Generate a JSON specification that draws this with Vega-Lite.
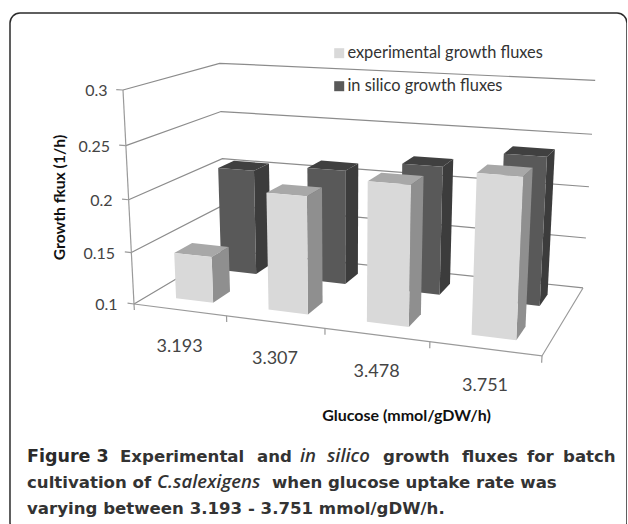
{
  "$schema": "https://vega.github.io/schema/vega-lite/v6.json",
  "width": 617,
  "height": 520,
  "autosize": "none",
  "padding": {"left": 10, "top": 13, "right": 0, "bottom": 0},
  "background": "white",
  "view": {"stroke": "#2b2b2b", "strokeWidth": 1.5, "cornerRadius": 10, "fill": "white"},
  "datasets": {
    "bars": [
      {"category": "3.193", "series": "in silico growth fluxes", "value": 0.206},
      {"category": "3.307", "series": "in silico growth fluxes", "value": 0.213},
      {"category": "3.478", "series": "in silico growth fluxes", "value": 0.224},
      {"category": "3.751", "series": "in silico growth fluxes", "value": 0.24},
      {"category": "3.193", "series": "experimental growth fluxes", "value": 0.1445},
      {"category": "3.307", "series": "experimental growth fluxes", "value": 0.21},
      {"category": "3.478", "series": "experimental growth fluxes", "value": 0.228},
      {"category": "3.751", "series": "experimental growth fluxes", "value": 0.2424}
    ],
    "levels": [{"level": 0.1}, {"level": 0.15}, {"level": 0.2}, {"level": 0.25}, {"level": 0.3}],
    "edges": [{"edge": 0}, {"edge": 1}, {"edge": 2}, {"edge": 3}, {"edge": 4}],
    "categories": [{"category": "3.193"}, {"category": "3.307"}, {"category": "3.478"}, {"category": "3.751"}],
    "caption": [
      {"run": "Figure 3", "line": 0, "kind": "head"},
      {"run": "Experimental", "line": 0, "kind": "body"},
      {"run": "and", "line": 0, "kind": "body"},
      {"run": "in", "line": 0, "kind": "term"},
      {"run": "silico", "line": 0, "kind": "term"},
      {"run": "growth", "line": 0, "kind": "body"},
      {"run": "fluxes", "line": 0, "kind": "body"},
      {"run": "for", "line": 0, "kind": "body"},
      {"run": "batch", "line": 0, "kind": "body"},
      {"run": "cultivation of", "line": 1, "kind": "body"},
      {"run": "C.salexigens", "line": 1, "kind": "term"},
      {"run": "when glucose uptake rate was", "line": 1, "kind": "body"},
      {"run": "varying between 3.193 - 3.751 mmol/gDW/h.", "line": 2, "kind": "body"}
    ]
  },
  "encoding": {
    "x": {
      "field": "sx", "type": "quantitative",
      "scale": {"domain": [10, 627], "nice": false, "zero": false},
      "axis": {
        "labels": false, "ticks": false, "domain": false, "grid": false,
        "title": "Glucose (mmol/gDW/h)", "titleFont": "Lato", "titleFontSize": 16, "titleFontWeight": "bold", "titleColor": "#111",
        "titleX": 396, "titleY": -113, "titleBaseline": "alphabetic"
      }
    },
    "y": {
      "field": "sy", "type": "quantitative",
      "scale": {"domain": [-0.11402, 0.37196], "nice": false, "zero": false},
      "axis": {
        "values": [0.1, 0.15, 0.2, 0.25, 0.3], "offset": -110, "format": ".2~f",
        "ticks": false, "domain": false, "grid": false,
        "labelFont": "Lato", "labelFontSize": 16, "labelColor": "#444",
        "labelPadding": {"expr": "3+(datum.value-0.1)*50"},
        "labelOffset": {"condition": {"test": "datum.value==0.1||datum.value==0.3", "value": 1}, "value": 3.5},
        "title": "Growth fkux (1/h)", "titleFont": "Lato", "titleFontSize": 15.7, "titleFontWeight": "bold", "titleColor": "#111",
        "titleX": -61, "titleY": 184, "titleBaseline": "middle"
      }
    }
  },
  "layer": [
    {
      "data": {"name": "levels"},
      "transform": [
        {"calculate": "(datum.level-0.1)/0.2", "as": "z"},
        {"calculate": "[[0,0,0],[0,1,1],[1,1,2]]", "as": "pt"},
        {"flatten": ["pt"]},
        {"calculate": "datum.pt[0]", "as": "u"},
        {"calculate": "datum.pt[1]", "as": "v"},
        {"calculate": "datum.pt[2]", "as": "n"},
        {"calculate": "1-0.1201*datum.u+0.1534*datum.v-0.05*datum.z", "as": "w"},
        {"calculate": "(342.9*datum.u+125.5*datum.v+134-17.15*datum.z)/datum.w", "as": "sx"},
        {"calculate": "0.1+(304-(9.2*datum.u-15.65*datum.v+304-218.5*datum.z)/datum.w)/1070", "as": "sy"}
      ],
      "mark": {"type": "line", "stroke": "#8c8c8c", "strokeWidth": 1.2},
      "encoding": {"detail": {"field": "level"}, "order": {"field": "n", "type": "quantitative"}}
    },
    {
      "data": {"name": "levels"},
      "transform": [
        {"calculate": "(datum.level-0.1)/0.2", "as": "z"},
        {"calculate": "[[-0.018,0],[0,1]]", "as": "pt"},
        {"flatten": ["pt"]},
        {"calculate": "datum.pt[0]", "as": "u"},
        {"calculate": "0", "as": "v"},
        {"calculate": "datum.pt[1]", "as": "n"},
        {"calculate": "1-0.1201*datum.u+0.1534*datum.v-0.05*datum.z", "as": "w"},
        {"calculate": "(342.9*datum.u+125.5*datum.v+134-17.15*datum.z)/datum.w", "as": "sx"},
        {"calculate": "0.1+(304-(9.2*datum.u-15.65*datum.v+304-218.5*datum.z)/datum.w)/1070", "as": "sy"}
      ],
      "mark": {"type": "line", "stroke": "#9a9a9a", "strokeWidth": 1.2},
      "encoding": {"detail": {"field": "level"}, "order": {"field": "n", "type": "quantitative"}}
    },
    {
      "data": {"name": "edges"},
      "transform": [
        {"calculate": "[[-0.03,0],[0,1]]", "as": "pt"},
        {"flatten": ["pt"]},
        {"calculate": "datum.edge/4", "as": "u"},
        {"calculate": "0", "as": "v"},
        {"calculate": "datum.pt[0]", "as": "z"},
        {"calculate": "datum.pt[1]", "as": "n"},
        {"calculate": "1-0.1201*datum.u+0.1534*datum.v-0.05*datum.z", "as": "w"},
        {"calculate": "(342.9*datum.u+125.5*datum.v+134-17.15*datum.z)/datum.w", "as": "sx"},
        {"calculate": "0.1+(304-(9.2*datum.u-15.65*datum.v+304-218.5*datum.z)/datum.w)/1070", "as": "sy"}
      ],
      "mark": {"type": "line", "stroke": "#9a9a9a", "strokeWidth": 1.2},
      "encoding": {"detail": {"field": "edge"}, "order": {"field": "n", "type": "quantitative"}}
    },
    {
      "data": {"values": [{"part": "floor"}, {"part": "axis"}]},
      "transform": [
        {"calculate": "datum.part=='floor'?[[0,0,0,0],[1,0,0,1],[1,1,0,2]]:[[0,0,0,0],[0,0,1,1]]", "as": "pt"},
        {"flatten": ["pt"]},
        {"calculate": "datum.pt[0]", "as": "u"},
        {"calculate": "datum.pt[1]", "as": "v"},
        {"calculate": "datum.pt[2]", "as": "z"},
        {"calculate": "datum.pt[3]", "as": "n"},
        {"calculate": "1-0.1201*datum.u+0.1534*datum.v-0.05*datum.z", "as": "w"},
        {"calculate": "(342.9*datum.u+125.5*datum.v+134-17.15*datum.z)/datum.w", "as": "sx"},
        {"calculate": "0.1+(304-(9.2*datum.u-15.65*datum.v+304-218.5*datum.z)/datum.w)/1070", "as": "sy"}
      ],
      "mark": {"type": "line", "stroke": "#9a9a9a", "strokeWidth": 1.2},
      "encoding": {"detail": {"field": "part"}, "order": {"field": "n", "type": "quantitative"}}
    },
    {
      "data": {"name": "bars"},
      "transform": [
        {"calculate": "indexof(['3.193','3.307','3.478','3.751'],datum.category)", "as": "i"},
        {"calculate": "datum.series=='experimental growth fluxes'?0:1", "as": "row"},
        {"calculate": "datum.i*0.25+0.075", "as": "u0"},
        {"calculate": "datum.u0+0.102", "as": "u1"},
        {"calculate": "datum.row*0.5+0.15", "as": "v0"},
        {"calculate": "datum.v0+0.187", "as": "v1"},
        {"calculate": "(datum.value-0.1)/0.2", "as": "zt"},
        {"calculate": "['side','top','front']", "as": "face"},
        {"flatten": ["face"]},
        {"calculate": "[0,1,2,3]", "as": "n"},
        {"flatten": ["n"]},
        {"calculate": "datum.face=='front'?[datum.u0,datum.u1,datum.u1,datum.u0][datum.n]:datum.face=='side'?datum.u1:[datum.u0,datum.u1,datum.u1,datum.u0][datum.n]", "as": "u"},
        {"calculate": "datum.face=='front'?datum.v0:datum.face=='side'?[datum.v0,datum.v1,datum.v1,datum.v0][datum.n]:[datum.v0,datum.v0,datum.v1,datum.v1][datum.n]", "as": "v"},
        {"calculate": "datum.face=='top'?datum.zt:[0,0,datum.zt,datum.zt][datum.n]", "as": "z"},
        {"calculate": "1-0.1201*datum.u+0.1534*datum.v-0.05*datum.z", "as": "w"},
        {"calculate": "(342.9*datum.u+125.5*datum.v+134-17.15*datum.z)/datum.w", "as": "sx"},
        {"calculate": "0.1+(304-(9.2*datum.u-15.65*datum.v+304-218.5*datum.z)/datum.w)/1070", "as": "sy"},
        {"calculate": "datum.face=='front'?datum.series:datum.series+' '+datum.face", "as": "shade"},
        {"calculate": "datum.series+datum.category+datum.face", "as": "poly"}
      ],
      "mark": {"type": "line", "strokeWidth": 0, "stroke": "transparent"},
      "encoding": {
        "detail": {"field": "poly"},
        "order": {"field": "n", "type": "quantitative"},
        "fill": {
          "field": "shade", "type": "nominal",
          "scale": {
            "domain": ["experimental growth fluxes", "in silico growth fluxes", "experimental growth fluxes side", "experimental growth fluxes top", "in silico growth fluxes side", "in silico growth fluxes top"],
            "range": ["#d9d9d9", "#595959", "#8f8f8f", "#a8a8a8", "#3c3c3c", "#404040"]
          },
          "legend": {
            "values": ["experimental growth fluxes", "in silico growth fluxes"],
            "orient": "none", "legendX": 321, "legendY": 32, "title": null, "padding": 0,
            "symbolType": "square", "symbolSize": 100, "symbolStrokeWidth": 0,
            "labelFont": "Lato", "labelFontSize": 16.4, "labelColor": "#333", "labelOffset": 0, "rowPadding": 16, "labelLimit": 300
          }
        }
      }
    },
    {
      "data": {"name": "categories"},
      "transform": [
        {"calculate": "indexof(['3.193','3.307','3.478','3.751'],datum.category)", "as": "i"},
        {"calculate": "datum.i*0.25+0.125", "as": "u"},
        {"calculate": "1-0.1201*datum.u", "as": "w"},
        {"calculate": "(342.9*datum.u+134)/datum.w", "as": "sx"},
        {"calculate": "0.1+(304-(9.2*datum.u+304)/datum.w)/1070", "as": "sy"}
      ],
      "mark": {"type": "text", "font": "Lato", "fontSize": 18, "color": "#444", "dy": 37, "baseline": "middle"},
      "encoding": {"text": {"field": "category"}}
    },
    {
      "data": {"name": "caption"},
      "transform": [
        {"filter": "datum.kind=='head'"},
        {"calculate": "27", "as": "sx"},
        {"calculate": "0.1+(304-[462,488,514][datum.line])/1070", "as": "sy"}
      ],
      "mark": {"type": "text", "font": "DejaVu Sans", "fontWeight": "bold", "fontSize": 17.5, "color": "#2a2a2a", "align": "left", "baseline": "alphabetic"},
      "encoding": {"text": {"field": "run"}}
    },
    {
      "data": {"name": "caption"},
      "transform": [
        {"filter": "datum.kind=='body'"},
        {"calculate": "{'Experimental':120,'and':257,'growth':383,'fluxes':462,'for':527,'batch':563,'cultivation of':27,'when glucose uptake rate was':272,'varying between 3.193 - 3.751 mmol/gDW/h.':27}[datum.run]", "as": "sx"},
        {"calculate": "0.1+(304-[462,488,514][datum.line])/1070", "as": "sy"}
      ],
      "mark": {"type": "text", "font": "DejaVu Sans", "fontWeight": "bold", "fontSize": 16.6, "color": "#333", "align": "left", "baseline": "alphabetic"},
      "encoding": {"text": {"field": "run"}}
    },
    {
      "data": {"name": "caption"},
      "transform": [
        {"filter": "datum.kind=='term'"},
        {"calculate": "{'in':300,'silico':327,'C.salexigens':157}[datum.run]", "as": "sx"},
        {"calculate": "0.1+(304-[462,488,514][datum.line])/1070", "as": "sy"}
      ],
      "mark": {"type": "text", "font": "Open Sans", "fontWeight": 600, "fontStyle": "italic", "fontSize": 18.5, "color": "#333", "align": "left", "baseline": "alphabetic"},
      "encoding": {"text": {"field": "run"}}
    }
  ]
}
